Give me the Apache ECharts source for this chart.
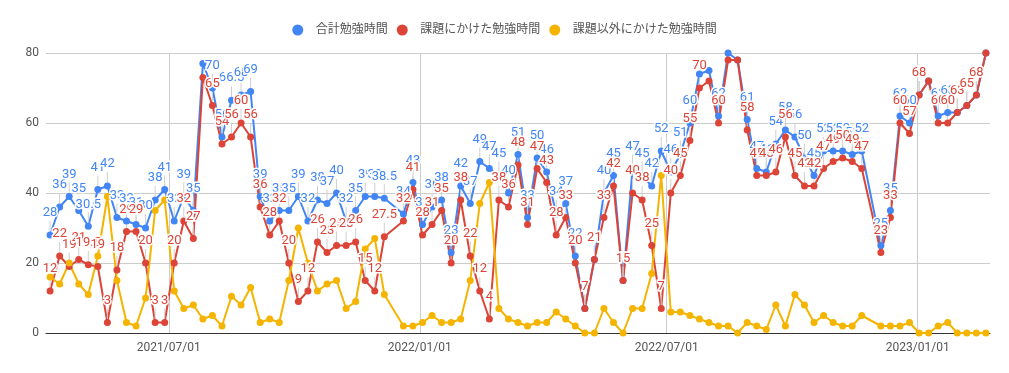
<!DOCTYPE html>
<html><head><meta charset="utf-8">
<script src="https://cdn.jsdelivr.net/npm/echarts@6/dist/echarts.min.js"></script>
<style>html,body{margin:0;padding:0;background:#fff}#c{width:1009px;height:373px}</style>
</head><body><div id="c"></div>
<script>
const seriesNames = ['合計勉強時間', '課題にかけた勉強時間', '課題以外にかけた勉強時間'];
const dates = [
 '2021-04-05','2021-04-12','2021-04-19','2021-04-26','2021-05-03','2021-05-10','2021-05-17','2021-05-24','2021-05-31','2021-06-07',
 '2021-06-14','2021-06-21','2021-06-28','2021-07-05','2021-07-12','2021-07-19','2021-07-26','2021-08-02','2021-08-09','2021-08-16',
 '2021-08-23','2021-08-30','2021-09-06','2021-09-13','2021-09-20','2021-09-27','2021-10-04','2021-10-11','2021-10-18','2021-10-25',
 '2021-11-01','2021-11-08','2021-11-15','2021-11-22','2021-11-29','2021-12-06','2021-12-20','2021-12-27','2022-01-03','2022-01-10',
 '2022-01-17','2022-01-24','2022-01-31','2022-02-07','2022-02-14','2022-02-21','2022-02-28','2022-03-07','2022-03-14','2022-03-21',
 '2022-03-28','2022-04-04','2022-04-11','2022-04-18','2022-04-25','2022-05-02','2022-05-09','2022-05-16','2022-05-23','2022-05-30',
 '2022-06-06','2022-06-13','2022-06-20','2022-06-27','2022-07-04','2022-07-11','2022-07-18','2022-07-25','2022-08-01','2022-08-08',
 '2022-08-15','2022-08-22','2022-08-29','2022-09-05','2022-09-12','2022-09-19','2022-09-26','2022-10-03','2022-10-10','2022-10-17',
 '2022-10-24','2022-10-31','2022-11-07','2022-11-14','2022-11-21','2022-12-05','2022-12-12','2022-12-19','2022-12-26','2023-01-02',
 '2023-01-09','2023-01-16','2023-01-23','2023-01-30','2023-02-06','2023-02-13','2023-02-20'
];
const totalHours = [
 28,36,39,35,30.5,41,42,33,32,31,
 30,38,41,32,39,35,77,70,56,66.5,
 68,69,39,32,35,35,39,32,38,37,
 40,32,35,39,39,38.5,34,43,31,36,
 38,23,42,37,49,47,45,40,51,33,
 50,46,34,37,22,7,21,40,45,15,
 47,45,42,52,46,51,60,74,75,62,
 80,78,61,47,46,54,58,56,50,45,
 52,52,52,51,52,25,35,62,60,68,
 72,62,63,63,65,68,80
];
const assignmentHours = [
 12,22,19,21,19.5,19,3,18,29,29,
 20,3,3,20,32,27,73,65,54,56,
 60,56,36,28,32,20,9,12,26,23,
 25,25,26,15,12,27.5,32,41,28,31,
 35,20,38,22,12,4,38,36,48,31,
 47,43,28,33,20,7,21,33,42,15,
 40,38,25,7,40,45,55,70,72,60,
 78,78,58,45,45,46,56,45,42,42,
 47,49,50,49,47,23,33,60,57,68,
 72,60,60,63,65,68,80
];
const otherHours = [
 16,14,20,14,11,22,39,15,3,2,
 10,35,38,12,7,8,4,5,2,10.5,
 8,13,3,4,3,15,30,20,12,14,
 15,7,9,24,27,11,2,2,3,5,
 3,3,4,15,37,43,7,4,3,2,
 3,3,6,4,2,0,0,7,3,0,
 7,7,17,45,6,6,5,4,3,2,
 2,0,3,2,1,8,2,11,8,3,
 5,3,2,2,5,2,2,2,3,0,
 0,2,3,0,0,0,0
];
const xTickLabels = ['2021/07/01', '2022/01/01', '2022/07/01', '2023/01/01'];
const xRange = ['2021/04/02', '2023/02/23'];
const yTicks = [0, 20, 40, 60, 80];

const colors = ['#4285F4', '#DB4437', '#F4B400'];
const FONT = 'Roboto, "Noto Sans CJK JP", sans-serif';
const GRID = { left: 46, right: 19, top: 53, bottom: 40 };
const LABEL_REACH = 30; // px a label (stem + text) extends above its point

function toMs(s) {
  const p = s.split(/[-\/]/).map(Number);
  return Date.UTC(p[0], p[1] - 1, p[2]);
}
function fmtDate(ms) {
  const d = new Date(ms);
  const pad = n => (n < 10 ? '0' : '') + n;
  return d.getUTCFullYear() + '/' + pad(d.getUTCMonth() + 1) + '/' + pad(d.getUTCDate());
}
const tickMs = xTickLabels.map(toMs);

function mkSeries(idx, vals, withLabel, fits) {
  const s = {
    name: seriesNames[idx],
    type: 'line',
    data: vals.map((v, i) => {
      const item = { value: [toMs(dates[i]), v] };
      if (withLabel && fits && !fits([toMs(dates[i]), v])) item.label = { show: false };
      return item;
    }),
    symbol: 'circle',
    symbolSize: 7,
    showSymbol: true,
    lineStyle: { width: 2, color: colors[idx] },
    itemStyle: { color: colors[idx] },
    emphasis: { disabled: true },
    animation: false
  };
  if (withLabel) {
    s.label = {
      show: true, position: 'top', distance: 2,
      color: colors[idx], fontFamily: FONT, fontSize: 13,
      textBorderColor: '#fff', textBorderWidth: 3,
      formatter: p => String(p.value[1])
    };
    s.labelLayout = { dy: -10 };
    s.labelLine = { show: true, lineStyle: { color: '#cfcfcf', width: 1 } };
  }
  return s;
}

const chart = echarts.init(document.getElementById('c'), null, { renderer: 'canvas' });
function buildOption(fits) {
  return {
    animation: false,
    color: colors,
    textStyle: { fontFamily: FONT },
    legend: {
      top: 19, left: 'center',
      icon: 'circle', itemWidth: 26, itemHeight: 11, itemGap: 9,
      textStyle: { color: '#555', fontSize: 12, fontFamily: FONT },
      data: seriesNames
    },
    grid: GRID,
    xAxis: {
      type: 'value',
      min: toMs(xRange[0]), max: toMs(xRange[1]),
      axisLine: { show: true, onZero: false, lineStyle: { color: '#333', width: 1 } },
      axisTick: { show: false, customValues: tickMs },
      axisLabel: {
        customValues: tickMs,
        formatter: v => fmtDate(v),
        color: '#555', fontSize: 12, margin: 9, fontFamily: FONT
      },
      splitLine: { show: true, lineStyle: { color: '#cccccc', width: 1 } }
    },
    yAxis: {
      type: 'value', min: yTicks[0], max: yTicks[yTicks.length - 1], interval: 20,
      axisLine: { show: false }, axisTick: { show: false },
      axisLabel: { color: '#555', fontSize: 12, margin: 7, fontFamily: FONT },
      splitLine: { lineStyle: { color: '#cccccc', width: 1 } }
    },
    series: [
      mkSeries(0, totalHours, true, fits),
      mkSeries(1, assignmentHours, true, fits),
      mkSeries(2, otherHours, false, fits)
    ]
  };
}
chart.setOption(buildOption(null));
// hide annotations that would stick out above the plot area
const fits = pt => chart.convertToPixel({ gridIndex: 0 }, pt)[1] - LABEL_REACH >= GRID.top;
chart.setOption(buildOption(fits), true);
</script></body></html>
